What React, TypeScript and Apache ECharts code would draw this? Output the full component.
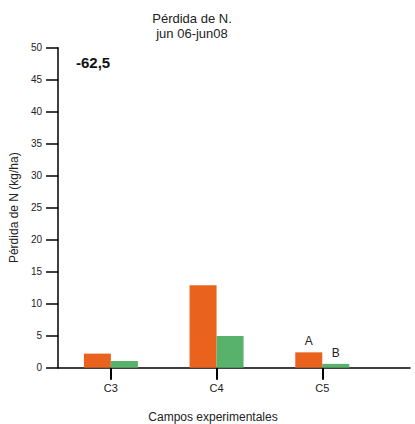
import React, { useEffect, useRef } from "react";
import * as echarts from "echarts";

// Campos experimentales y pérdida de N (kg/ha) por serie
const categories = ["C3", "C4", "C5"];
const serieNaranja = [2.2, 12.9, 2.4];
const serieVerde = [1.05, 4.95, 0.6];
const etiquetasNaranja = ["", "", "A"];
const etiquetasVerde = ["", "", "B"];
const yTicks = [0, 5, 10, 15, 20, 25, 30, 35, 40, 45, 50];

const FONT = "'Liberation Sans', Arial, sans-serif";
const INK = "#000000";

export default function App() {
  const ref = useRef<HTMLDivElement>(null);

  useEffect(() => {
    document.body.style.margin = "0";
    if (!ref.current) return;
    const chart = echarts.init(ref.current, null, { renderer: "svg" });

    const toData = (vals: number[], labels: string[]) =>
      vals.map((v, i) => ({
        value: [i, v],
        label: labels[i]
          ? { show: true, formatter: labels[i], position: "top", distance: 5 }
          : { show: false },
      }));

    chart.setOption({
      animation: false,
      textStyle: { fontFamily: FONT },
      grid: { left: 56, right: 5, top: 47.7, bottom: 56.3 },
      xAxis: {
        type: "value",
        min: -0.5,
        max: 2.83,
        splitLine: { show: false },
        axisLine: { show: true, onZero: false, lineStyle: { color: INK, width: 1.5 } },
        axisTick: {
          show: true,
          customValues: [0, 1, 2],
          length: 12,
          lineStyle: { color: INK, width: 2 },
        },
        axisLabel: {
          customValues: [0, 1, 2],
          formatter: (v: number) => categories[Math.round(v)] ?? "",
          color: "#222",
          fontSize: 11,
          margin: 15,
        },
      },
      yAxis: {
        type: "value",
        min: yTicks[0],
        max: yTicks[yTicks.length - 1],
        interval: 5,
        name: "Pérdida de N (kg/ha)",
        nameLocation: "middle",
        nameGap: 37,
        nameTextStyle: { color: "#222", fontSize: 12 },
        splitLine: { show: false },
        axisLine: { show: true, onZero: false, lineStyle: { color: INK, width: 1.5 } },
        axisTick: { show: true, length: 12, lineStyle: { color: INK, width: 1.5 } },
        axisLabel: { color: "#222", fontSize: 10, margin: 16 },
      },
      series: [
        {
          type: "bar",
          data: toData(serieNaranja, etiquetasNaranja),
          barWidth: 27,
          barGap: "0%",
          itemStyle: { color: "#E9631F" },
          label: { color: "#222", fontSize: 12 },
        },
        {
          type: "bar",
          data: toData(serieVerde, etiquetasVerde),
          barWidth: 27,
          barGap: "0%",
          itemStyle: { color: "#58B26C" },
          label: { color: "#222", fontSize: 12 },
        },
      ],
      graphic: [
        {
          type: "text",
          x: 192,
          y: 18,
          style: {
            text: "Pérdida de N.",
            fontSize: 13,
            fontFamily: FONT,
            fill: "#222",
            align: "center",
            verticalAlign: "middle",
          },
        },
        {
          type: "text",
          x: 192,
          y: 33,
          style: {
            text: "jun 06-jun08",
            fontSize: 13,
            fontFamily: FONT,
            fill: "#222",
            align: "center",
            verticalAlign: "middle",
          },
        },
        {
          type: "text",
          x: 76,
          y: 62,
          style: {
            text: "-62,5",
            fontSize: 15,
            fontWeight: "bold",
            fontFamily: FONT,
            fill: "#111",
            align: "left",
            verticalAlign: "middle",
          },
        },
        {
          type: "text",
          x: 213,
          y: 417,
          style: {
            text: "Campos experimentales",
            fontSize: 12,
            fontFamily: FONT,
            fill: "#222",
            align: "center",
            verticalAlign: "middle",
          },
        },
      ],
    });

    return () => chart.dispose();
  }, []);

  return <div ref={ref} style={{ width: 415, height: 424 }} />;
}
